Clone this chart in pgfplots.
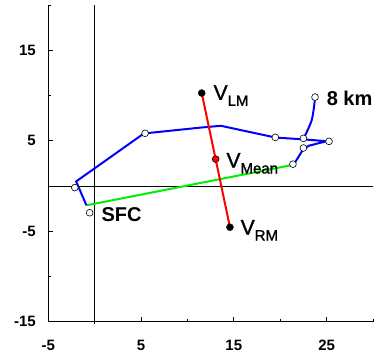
\documentclass[border=0pt]{standalone}
\usepackage{fontspec}
\setmainfont{Liberation Sans}
\newfontfamily\medfont[FakeBold=1.2]{Liberation Sans}
\usepackage{pgfplots}
\pgfplotsset{compat=1.18}
\definecolor{hblue}{RGB}{0,0,255}
\definecolor{hred}{RGB}{255,0,0}
\definecolor{hgreen}{RGB}{0,240,0}
\newcommand{\sub}[1]{\raisebox{-6pt}{\fontsize{15}{15}\selectfont #1}}
\begin{document}
\begin{tikzpicture}
\path[use as bounding box] (0pt,0pt) rectangle (378pt,355pt);
\begin{axis}[
  at={(48.3pt,33.3pt)}, anchor=south west,
  scale only axis, width=324.7pt, height=316.7pt,
  xmin=-5, xmax=30, ymin=-15, ymax=20,
  axis x line*=bottom, axis y line*=left,
  axis line style={line width=0.8pt},
  xtick={-5,5,15,25}, minor xtick={0,10,20,30},
  ytick={-15,-5,5,15}, minor ytick={-10,0,10,20},
  tick align=inside, major tick length=5pt, minor tick length=3pt,
  tick style={line width=0.8pt, black},
  ticklabel style={font=\bfseries\fontsize{15}{15}\selectfont},
  xticklabel style={yshift=-15pt},
  yticklabel style={xshift=-9pt},
  /pgf/number format/assume math mode=true,
  clip=false,
]
% zero lines
\draw[black, line width=0.8pt] (axis cs:0,-15.3) -- (axis cs:0,20);
\draw[black, line width=0.8pt] (axis cs:-5,0) -- (axis cs:30,0);
% shear vector
\addplot[hgreen, line width=2pt] coordinates {(-0.89,-2.14) (21.2,2.3)};
% hodograph
\addplot[hblue, line width=2pt] coordinates {
 (-0.89,-2.14) (-2.0,0.5) (5.3,5.8) (11.4,6.45) (13.6,6.65) (19.5,5.35)
 (22.5,5.15) (25.0,4.95) (23.1,4.45) (22.5,4.1) (21.6,2.6)};
\addplot[hblue, line width=2pt, smooth] coordinates {
 (22.5,5.2) (23.4,7.3) (23.75,9.7)};
% hodograph markers
\addplot[only marks, mark=*, mark size=3.4pt,
  mark options={fill=white, draw=black, line width=0.6pt}] coordinates {
 (-0.54,-2.96) (-2.14,-0.18) (5.43,5.82) (19.47,5.37) (22.5,5.26)
 (25.26,4.93) (22.5,4.2) (21.37,2.41) (23.75,9.82)};
% storm motion line
\addplot[hred, line width=2pt] coordinates {(11.54,10.27) (14.58,-4.56)};
\addplot[only marks, mark=*, mark size=3.5pt, black] coordinates {(11.54,10.27) (14.58,-4.56)};
\addplot[only marks, mark=*, mark size=3.4pt,
  mark options={fill=hred, draw=black, line width=0.6pt}] coordinates {(13.04,2.97)};
% labels
\node[anchor=base west, inner sep=0pt, font=\medfont\fontsize{21}{21}\selectfont] at (axis cs:12.8,9.52) {V\sub{LM}};
\node[anchor=base west, inner sep=0pt, font=\medfont\fontsize{21}{21}\selectfont] at (axis cs:14.19,2.04) {V\sub{Mean}};
\node[anchor=base west, inner sep=0pt, font=\medfont\fontsize{21}{21}\selectfont] at (axis cs:15.72,-5.37) {V\sub{RM}};
\node[anchor=base west, inner sep=0pt, font=\bfseries\fontsize{20}{20}\selectfont] at (axis cs:25.0,8.89) {8 km};
\node[anchor=base west, inner sep=0pt, font=\bfseries\fontsize{20}{20}\selectfont] at (axis cs:0.72,-3.89) {SFC};
\end{axis}
\end{tikzpicture}
\end{document}
